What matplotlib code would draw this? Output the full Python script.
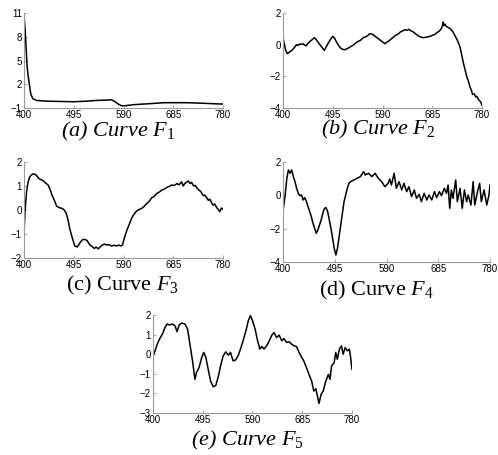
import matplotlib
matplotlib.use('Agg')
import matplotlib.pyplot as plt

plt.rcParams['font.family'] = ['Liberation Sans', 'DejaVu Sans']
plt.rcParams['mathtext.fontset'] = 'custom'
plt.rcParams['mathtext.rm'] = 'Liberation Serif'
plt.rcParams['mathtext.it'] = 'Liberation Serif:italic'

x_ticks = [400, 495, 590, 685, 780]

# curve F1
a_nm = [400, 402, 404, 406, 408, 410, 413, 417, 424, 443,
        469, 494, 520, 539, 558, 567, 572, 576, 580, 586,
        593, 609, 628, 647, 666, 685, 711, 736, 762, 780]
a_val = [10.5, 9.17, 6.67, 4.17, 3.0, 2.08, 0.75, 0.17, -0.04, -0.13,
         -0.17, -0.21, -0.13, -0.04, 0.0, 0.04, -0.13, -0.3, -0.5, -0.71,
         -0.71, -0.58, -0.5, -0.42, -0.33, -0.33, -0.33, -0.38, -0.46, -0.5]
a_yticks = [-1, 2, 5, 8, 11]

# curve F2
b_nm = [400, 402, 405, 408, 411, 414, 417, 420, 423, 426,
        429, 432, 435, 438, 441, 444, 447, 451, 455, 460,
        464, 469, 474, 479, 483, 487, 491, 495, 499, 502,
        506, 511, 515, 518, 523, 528, 533, 538, 543, 548,
        553, 558, 562, 566, 570, 572, 577, 582, 587, 591,
        595, 598, 601, 605, 608, 611, 615, 620, 624, 628,
        633, 637, 640, 644, 649, 654, 659, 663, 668, 673,
        677, 681, 686, 690, 694, 698, 701, 703, 705, 706,
        707, 709, 712, 716, 719, 722, 725, 728, 731, 734,
        738, 741, 744, 747, 751, 754, 757, 760, 762, 765,
        768, 770, 773, 776, 778, 780]
b_val = [0.44, 0.10, -0.35, -0.57, -0.50, -0.42, -0.36, -0.25, -0.12, 0.00,
         -0.04, 0.05, 0.02, 0.06, -0.02, -0.08, 0.05, 0.20, 0.30, 0.44,
         0.30, 0.06, -0.15, -0.36, -0.10, 0.13, 0.35, 0.53, 0.38, 0.17,
         -0.05, -0.25, -0.30, -0.32, -0.25, -0.15, -0.05, 0.08, 0.20, 0.28,
         0.44, 0.50, 0.58, 0.70, 0.66, 0.63, 0.50, 0.38, 0.25, 0.15,
         0.06, 0.16, 0.21, 0.32, 0.40, 0.48, 0.60, 0.68, 0.80, 0.86,
         0.95, 0.90, 0.97, 0.88, 0.80, 0.66, 0.55, 0.48, 0.44, 0.47,
         0.50, 0.53, 0.60, 0.65, 0.76, 0.85, 0.95, 1.07, 1.30, 1.43,
         1.20, 1.30, 1.15, 1.08, 1.01, 0.92, 0.78, 0.59, 0.40, 0.20,
         -0.15, -0.60, -1.10, -1.50, -2.04, -2.30, -2.67, -2.90, -3.14, -3.10,
         -3.30, -3.26, -3.45, -3.56, -3.65, -3.83]
b_yticks = [-4, -2, 0, 2]

# curve F3
c_nm = [400, 402, 405, 408, 411, 414, 418, 421, 423, 426,
        429, 433, 437, 441, 446, 450, 453, 458, 462, 467,
        472, 476, 480, 484, 487, 490, 493, 497, 502, 507,
        510, 513, 517, 520, 523, 526, 530, 534, 538, 542,
        546, 550, 554, 558, 562, 567, 572, 577, 581, 585,
        588, 591, 594, 597, 601, 606, 610, 615, 620, 625,
        629, 634, 639, 644, 648, 653, 658, 663, 667, 672,
        677, 682, 687, 692, 696, 701, 704, 707, 710, 714,
        717, 720, 724, 727, 730, 733, 736, 739, 742, 745,
        749, 752, 755, 758, 761, 764, 768, 771, 774, 777,
        780]
c_val = [-0.99, -0.04, 0.79, 1.18, 1.38, 1.46, 1.51, 1.48, 1.46, 1.38,
         1.30, 1.26, 1.21, 1.13, 1.04, 0.85, 0.65, 0.40, 0.17, 0.10,
         0.07, 0.02, -0.11, -0.40, -0.74, -1.00, -1.22, -1.50, -1.54, -1.36,
         -1.28, -1.22, -1.24, -1.26, -1.36, -1.46, -1.52, -1.60, -1.55, -1.62,
         -1.52, -1.46, -1.42, -1.46, -1.44, -1.50, -1.47, -1.50, -1.46, -1.50,
         -1.46, -1.22, -1.00, -0.81, -0.60, -0.32, -0.18, -0.04, 0.02, 0.07,
         0.14, 0.26, 0.36, 0.51, 0.55, 0.68, 0.74, 0.83, 0.86, 0.93,
         0.98, 1.04, 1.02, 1.10, 1.05, 1.17, 1.00, 1.10, 1.15, 1.21,
         1.10, 1.15, 1.00, 1.02, 0.93, 0.85, 0.80, 0.72, 0.60, 0.62,
         0.51, 0.40, 0.45, 0.31, 0.20, 0.25, 0.10, 0.02, -0.07, 0.08,
         0.03]
c_yticks = [-2, -1, 0, 1, 2]

# curve F4
d_nm = [400, 404, 407, 410, 413, 416, 419, 422, 425, 428,
        431, 434, 437, 440, 443, 446, 449, 452, 455, 458,
        461, 464, 467, 470, 473, 476, 479, 482, 485, 488,
        491, 494, 497, 500, 503, 506, 509, 512, 515, 518,
        521, 524, 530, 536, 542, 548, 551, 557, 563, 569,
        575, 581, 587, 593, 596, 599, 604, 608, 613, 618,
        622, 627, 631, 636, 641, 645, 650, 654, 659, 664,
        668, 673, 678, 682, 687, 691, 696, 700, 703, 706,
        709, 712, 717, 720, 725, 729, 733, 737, 740, 745,
        749, 752, 757, 761, 764, 769, 774, 778, 780]
d_val = [-0.94, 0.02, 1.02, 1.52, 1.32, 1.52, 1.12, 0.82, 0.42, 0.12,
         -0.02, 0.02, -0.28, -0.14, -0.38, -0.68, -0.98, -1.28, -1.68, -1.98,
         -2.28, -2.08, -1.78, -1.48, -1.08, -0.78, -0.74, -0.98, -1.48, -1.98,
         -2.58, -3.18, -3.58, -3.18, -2.48, -1.78, -1.08, -0.38, 0.02, 0.42,
         0.72, 0.82, 0.92, 1.02, 1.12, 1.42, 1.22, 1.32, 1.12, 1.32,
         1.02, 0.82, 0.52, 0.72, 0.98, 0.62, 1.32, 0.42, 0.82, 0.32,
         0.72, 0.22, 0.52, -0.08, 0.32, -0.18, 0.06, -0.38, 0.12, -0.28,
         0.02, -0.28, 0.22, -0.14, 0.22, -0.02, 0.42, 0.12, 0.62, -0.78,
         0.32, -0.18, 0.92, -0.38, 0.42, -0.78, 0.32, -0.38, 0.02, -0.58,
         0.82, -0.58, 0.22, 0.72, -0.38, 0.32, -0.58, 0.02, 0.62]
d_yticks = [-4, -2, 0, 2]

# curve F5
e_nm = [400, 404, 408, 413, 418, 423, 427, 432, 437, 442,
        446, 450, 455, 461, 466, 471, 476, 480, 483, 488,
        493, 497, 501, 506, 510, 515, 520, 525, 529, 534,
        539, 544, 548, 553, 558, 563, 567, 572, 578, 582,
        586, 590, 595, 599, 604, 608, 612, 617, 622, 627,
        631, 636, 641, 646, 650, 655, 660, 665, 669, 674,
        679, 684, 688, 693, 699, 703, 707, 711, 714, 717,
        721, 725, 730, 735, 738, 741, 746, 749, 752, 756,
        760, 763, 767, 771, 775, 777, 780]
e_val = [-0.09, 0.17, 0.51, 0.80, 1.03, 1.37, 1.54, 1.49, 1.54, 1.45,
         1.15, 1.49, 1.59, 1.54, 1.28, 0.43, -0.43, -1.28, -0.94, -0.68,
         -0.17, 0.09, -0.17, -0.85, -1.37, -1.66, -1.59, -1.11, -0.60, -0.09,
         0.12, -0.05, 0.09, -0.34, -0.29, -0.05, 0.26, 0.68, 1.25, 1.71,
         1.97, 1.71, 1.28, 0.77, 0.26, 0.39, 0.26, 0.43, 0.68, 0.97,
         1.11, 0.85, 0.97, 0.68, 0.80, 0.60, 0.63, 0.51, 0.43, 0.39,
         0.09, -0.17, -0.34, -0.68, -1.11, -1.37, -1.88, -1.76, -2.14, -2.51,
         -2.05, -1.88, -1.37, -1.03, -1.28, -0.60, -0.43, 0.09, -0.26, 0.26,
         0.43, 0.00, 0.34, 0.17, 0.26, -0.09, -0.77]
e_yticks = [-3, -2, -1, 0, 1, 2]


def panel(rect, nm, val, yticks):
    ax = fig.add_axes(rect)
    ax.plot(nm, val, color='black', lw=1.1)
    ax.set_xlim(400, 780)
    ax.set_ylim(yticks[0], yticks[-1])
    ax.set_xticks(x_ticks)
    ax.set_yticks(yticks)
    ax.spines['top'].set_visible(False)
    ax.spines['right'].set_visible(False)
    for s in ['left', 'bottom']:
        ax.spines[s].set_color('#9a9a9a')
        ax.spines[s].set_linewidth(0.8)
    ax.tick_params(direction='in', length=2.5, width=0.6, color='#9a9a9a',
                   labelsize=7, pad=1.5)
    return ax


fig = plt.figure(figsize=(4.98, 4.55), dpi=100)

panel([0.0482, 0.7626, 0.3996, 0.2088], a_nm, a_val, a_yticks)
panel([0.5683, 0.7626, 0.3996, 0.2088], b_nm, b_val, b_yticks)
panel([0.0482, 0.4330, 0.3996, 0.2110], c_nm, c_val, c_yticks)
panel([0.5683, 0.4242, 0.4157, 0.2198], d_nm, d_val, d_yticks)
panel([0.3072, 0.0923, 0.3996, 0.2154], e_nm, e_val, e_yticks)

cap = dict(family='Liberation Serif', fontsize=16, ha='center', va='center')
fig.text(0.237, 0.712, r'(a) Curve $F_{\mathit{1}}$', style='italic', **cap)
fig.text(0.759, 0.716, r'(b) Curve $F_2$', style='italic', **cap)
fig.text(0.245, 0.372, r'(c) Curve $F_3$', **cap)
fig.text(0.755, 0.361, r'(d) Curve $F_4$', **cap)
fig.text(0.496, 0.033, r'(e) Curve $F_5$', style='italic', **cap)

fig.savefig('out.png', dpi=100)
